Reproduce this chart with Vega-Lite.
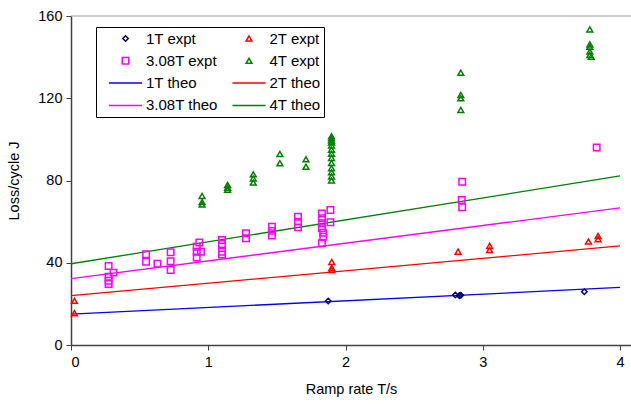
{
  "$schema": "https://vega.github.io/schema/vega-lite/v6.json",
  "autosize": "none",
  "padding": {"left": 71, "top": 16, "right": 0, "bottom": 59},
  "width": 560,
  "height": 329,
  "background": "white",
  "config": {
    "font": "Liberation Sans",
    "view": {"stroke": null},
    "axis": {"labelFont": "Liberation Sans", "titleFont": "Liberation Sans", "labelColor": "black", "titleColor": "black", "titleFontWeight": "normal", "grid": false, "domainColor": "#404040", "tickColor": "#404040", "domainWidth": 1.5, "tickWidth": 1},
    "legend": {"orient": "none", "legendX": 25, "legendY": 11, "columns": 2, "direction": "horizontal", "columnPadding": 4.5, "rowPadding": 5.3, "padding": 3,
               "clipHeight": 17,
               "strokeColor": "black", "fillColor": "white", "labelFontSize": 15, "labelFont": "Liberation Sans", "labelColor": "black",
               "symbolOffset": 9, "labelOffset": 3, "symbolStrokeWidth": 1.5, "labelExpr": "datum.label + '       '"}
  },
  "datasets": {
    "top": [{"y": 160}],
    "theo": [
      {"series": "1T theo", "x": 0, "y": 15},
      {"series": "1T theo", "x": 4, "y": 28},
      {"series": "2T theo", "x": 0, "y": 24},
      {"series": "2T theo", "x": 4, "y": 48.2},
      {"series": "3.08T theo", "x": 0, "y": 32.3},
      {"series": "3.08T theo", "x": 4, "y": 66.7},
      {"series": "4T theo", "x": 0, "y": 39.5},
      {"series": "4T theo", "x": 4, "y": 82.2}
    ],
    "expt": [
      {"series": "1T expt", "x": 1.874, "y": 21.4},
      {"series": "1T expt", "x": 2.80, "y": 24.3},
      {"series": "1T expt", "x": 2.83, "y": 24.0},
      {"series": "1T expt", "x": 2.84, "y": 24.2},
      {"series": "1T expt", "x": 3.74, "y": 25.9},
      {"series": "2T expt", "x": 0.025, "y": 21.5},
      {"series": "2T expt", "x": 0.025, "y": 15.5},
      {"series": "2T expt", "x": 1.9, "y": 40.4},
      {"series": "2T expt", "x": 1.9, "y": 37.5},
      {"series": "2T expt", "x": 1.9, "y": 36.5},
      {"series": "2T expt", "x": 2.82, "y": 45.4},
      {"series": "2T expt", "x": 3.05, "y": 48.2},
      {"series": "2T expt", "x": 3.05, "y": 46.2},
      {"series": "2T expt", "x": 3.77, "y": 50.3},
      {"series": "2T expt", "x": 3.84, "y": 53},
      {"series": "2T expt", "x": 3.84, "y": 51.5},
      {"series": "3.08T expt", "x": 0.274, "y": 38.4},
      {"series": "3.08T expt", "x": 0.31, "y": 35.2},
      {"series": "3.08T expt", "x": 0.274, "y": 33.2},
      {"series": "3.08T expt", "x": 0.274, "y": 31.2},
      {"series": "3.08T expt", "x": 0.274, "y": 29.7},
      {"series": "3.08T expt", "x": 0.547, "y": 44.1},
      {"series": "3.08T expt", "x": 0.547, "y": 40.5},
      {"series": "3.08T expt", "x": 0.63, "y": 39.5},
      {"series": "3.08T expt", "x": 0.726, "y": 45.1},
      {"series": "3.08T expt", "x": 0.726, "y": 40.7},
      {"series": "3.08T expt", "x": 0.726, "y": 36.5},
      {"series": "3.08T expt", "x": 0.916, "y": 47.8},
      {"series": "3.08T expt", "x": 0.935, "y": 49.8},
      {"series": "3.08T expt", "x": 0.916, "y": 45.4},
      {"series": "3.08T expt", "x": 0.947, "y": 45.4},
      {"series": "3.08T expt", "x": 0.916, "y": 42.6},
      {"series": "3.08T expt", "x": 1.10, "y": 51.1},
      {"series": "3.08T expt", "x": 1.10, "y": 49.1},
      {"series": "3.08T expt", "x": 1.10, "y": 45.4},
      {"series": "3.08T expt", "x": 1.10, "y": 44},
      {"series": "3.08T expt", "x": 1.275, "y": 54.3},
      {"series": "3.08T expt", "x": 1.275, "y": 51.9},
      {"series": "3.08T expt", "x": 1.464, "y": 57.5},
      {"series": "3.08T expt", "x": 1.464, "y": 55.5},
      {"series": "3.08T expt", "x": 1.464, "y": 53.2},
      {"series": "3.08T expt", "x": 1.654, "y": 62.4},
      {"series": "3.08T expt", "x": 1.654, "y": 60},
      {"series": "3.08T expt", "x": 1.654, "y": 57.2},
      {"series": "3.08T expt", "x": 1.828, "y": 64},
      {"series": "3.08T expt", "x": 1.828, "y": 61.6},
      {"series": "3.08T expt", "x": 1.828, "y": 59.2},
      {"series": "3.08T expt", "x": 1.828, "y": 56.8},
      {"series": "3.08T expt", "x": 1.838, "y": 54.6},
      {"series": "3.08T expt", "x": 1.838, "y": 52.7},
      {"series": "3.08T expt", "x": 1.828, "y": 49.5},
      {"series": "3.08T expt", "x": 1.89, "y": 65.7},
      {"series": "3.08T expt", "x": 1.89, "y": 59.7},
      {"series": "3.08T expt", "x": 2.85, "y": 79.4},
      {"series": "3.08T expt", "x": 2.847, "y": 70.5},
      {"series": "3.08T expt", "x": 2.85, "y": 67},
      {"series": "3.08T expt", "x": 3.83, "y": 96},
      {"series": "4T expt", "x": 0.955, "y": 72.5},
      {"series": "4T expt", "x": 0.955, "y": 69.5},
      {"series": "4T expt", "x": 0.955, "y": 68.3},
      {"series": "4T expt", "x": 1.141, "y": 77.8},
      {"series": "4T expt", "x": 1.141, "y": 76.5},
      {"series": "4T expt", "x": 1.141, "y": 75.5},
      {"series": "4T expt", "x": 1.328, "y": 83},
      {"series": "4T expt", "x": 1.328, "y": 81},
      {"series": "4T expt", "x": 1.328, "y": 79},
      {"series": "4T expt", "x": 1.522, "y": 92.9},
      {"series": "4T expt", "x": 1.522, "y": 88.4},
      {"series": "4T expt", "x": 1.712, "y": 90.3},
      {"series": "4T expt", "x": 1.712, "y": 86.7},
      {"series": "4T expt", "x": 1.898, "y": 101.5},
      {"series": "4T expt", "x": 1.898, "y": 100.5},
      {"series": "4T expt", "x": 1.898, "y": 99.5},
      {"series": "4T expt", "x": 1.898, "y": 98.5},
      {"series": "4T expt", "x": 1.898, "y": 97},
      {"series": "4T expt", "x": 1.898, "y": 95},
      {"series": "4T expt", "x": 1.898, "y": 93},
      {"series": "4T expt", "x": 1.898, "y": 91},
      {"series": "4T expt", "x": 1.898, "y": 88.5},
      {"series": "4T expt", "x": 1.898, "y": 86},
      {"series": "4T expt", "x": 1.898, "y": 84},
      {"series": "4T expt", "x": 1.898, "y": 82},
      {"series": "4T expt", "x": 1.898, "y": 80},
      {"series": "4T expt", "x": 2.84, "y": 132.4},
      {"series": "4T expt", "x": 2.84, "y": 121.6},
      {"series": "4T expt", "x": 2.84, "y": 120},
      {"series": "4T expt", "x": 2.84, "y": 114.3},
      {"series": "4T expt", "x": 3.78, "y": 153.5},
      {"series": "4T expt", "x": 3.78, "y": 146.2},
      {"series": "4T expt", "x": 3.78, "y": 145},
      {"series": "4T expt", "x": 3.78, "y": 142.7},
      {"series": "4T expt", "x": 3.78, "y": 141},
      {"series": "4T expt", "x": 3.79, "y": 140.2}
    ]
  },
  "encoding": {
    "x": {"field": "x", "type": "quantitative", "scale": {"domain": [0, 4.08], "nice": false, "zero": false},
          "axis": {"values": [0, 1, 2, 3, 4], "title": "Ramp rate T/s", "labelFontSize": 14.5, "titleFontSize": 14.5, "tickSize": 5, "labelPadding": 5, "titlePadding": 14}},
    "y": {"field": "y", "type": "quantitative", "scale": {"domain": [0, 160], "nice": false},
          "axis": {"values": [0, 40, 80, 120, 160], "title": "Loss/cycle J", "labelFontSize": 14.5, "titleFontSize": 14.5, "tickSize": 5, "labelPadding": 4, "titlePadding": 16}},
    "color": {"field": "series", "type": "nominal",
              "scale": {"domain": ["1T expt", "2T expt", "3.08T expt", "4T expt", "1T theo", "2T theo", "3.08T theo", "4T theo"],
                        "range": ["#000080", "#FF0000", "#FF00FF", "#008000", "#0000FF", "#FF0000", "#FF00FF", "#008000"]},
              "legend": {"title": null}}
  },
  "layer": [
    {
      "data": {"name": "top"},
      "mark": {"type": "rule", "color": "#999999", "strokeWidth": 1},
      "encoding": {"y": {"field": "y", "type": "quantitative"}, "x": {"value": 0}, "x2": {"value": 560}, "color": {"value": "#999999"}}
    },
    {
      "data": {"name": "theo"},
      "mark": {"type": "line", "strokeWidth": 1.3, "clip": true},
      "encoding": {
        "detail": {"field": "series"}
      }
    },
    {
      "data": {"name": "expt"},
      "mark": {"type": "point", "filled": false, "strokeWidth": 1.5, "opacity": 1},
      "encoding": {
        "shape": {"field": "series", "type": "nominal",
                  "scale": {"domain": ["1T expt", "2T expt", "3.08T expt", "4T expt", "1T theo", "2T theo", "3.08T theo", "4T theo"],
                            "range": ["diamond", "triangle-up", "square", "triangle-up", "stroke", "stroke", "stroke", "stroke"]},
                  "legend": {"title": null}},
        "size": {"field": "series", "type": "nominal",
                 "scale": {"type": "ordinal", "domain": ["1T expt", "2T expt", "3.08T expt", "4T expt", "1T theo", "2T theo", "3.08T theo", "4T theo"],
                           "range": [30, 34, 42, 34, 1100, 1100, 1100, 1100]},
                 "legend": {"title": null}}
      }
    }
  ]
}
